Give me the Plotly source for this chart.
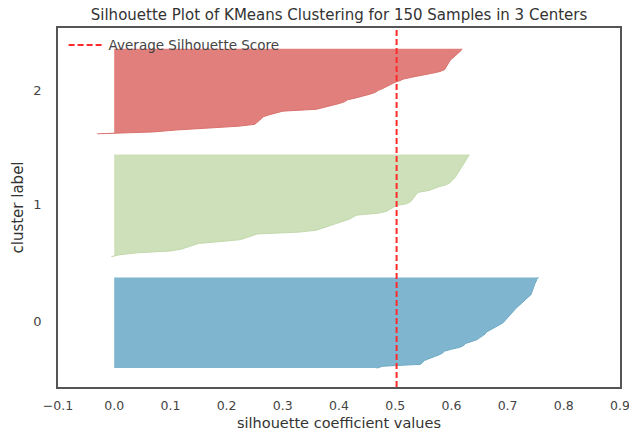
import numpy as np
import plotly.graph_objects as go

cluster_labels = ["0", "1", "2"]
silhouette_0 = [0.467, 0.478, 0.545, 0.548, 0.552, 0.56, 0.57, 0.578, 0.584, 0.588,
                0.60, 0.615, 0.622, 0.625, 0.635, 0.645, 0.65, 0.655, 0.66, 0.662,
                0.668, 0.675, 0.682, 0.688, 0.692, 0.695, 0.698, 0.70, 0.703, 0.706,
                0.709, 0.712, 0.716, 0.72, 0.724, 0.727, 0.73, 0.734, 0.738, 0.742,
                0.743, 0.744, 0.745, 0.746, 0.747, 0.749, 0.751, 0.752, 0.755]
silhouette_1 = [-0.005, 0.01, 0.04, 0.10, 0.12, 0.13, 0.14, 0.15, 0.19, 0.225,
                0.235, 0.245, 0.255, 0.33, 0.36, 0.37, 0.38, 0.39, 0.40, 0.41,
                0.42, 0.425, 0.432, 0.47, 0.485, 0.49, 0.495, 0.502, 0.52, 0.527,
                0.53, 0.532, 0.535, 0.538, 0.54, 0.56, 0.568, 0.578, 0.59, 0.597,
                0.60, 0.604, 0.607, 0.609, 0.611, 0.613, 0.615, 0.617, 0.619, 0.621,
                0.623, 0.625, 0.627, 0.629, 0.632]
silhouette_2 = [-0.03, 0.07, 0.11, 0.17, 0.22, 0.25, 0.255, 0.258, 0.262, 0.265,
                0.275, 0.29, 0.30, 0.36, 0.375, 0.39, 0.40, 0.41, 0.415, 0.43,
                0.445, 0.455, 0.465, 0.47, 0.478, 0.484, 0.49, 0.498, 0.507, 0.515,
                0.53, 0.55, 0.565, 0.58, 0.588, 0.59, 0.592, 0.594, 0.596, 0.598,
                0.602, 0.606, 0.61, 0.614, 0.617, 0.619]
average_score = 0.5025
x_tick_vals = [-0.1, 0.0, 0.1, 0.2, 0.3, 0.4, 0.5, 0.6, 0.7, 0.8, 0.9]

clusters = [silhouette_0, silhouette_1, silhouette_2]
fill_colors = ["#7FB5CE", "#CDE0BA", "#E07F7B"]
edge_colors = ["#6FAAC6", "#C2D9AC", "#DA726E"]

fig = go.Figure()
y_lower = 10
tick_pos = []
for vals, fc, ec in zip(clusters, fill_colors, edge_colors):
    vals = sorted(vals)
    n = len(vals)
    ys = np.arange(y_lower, y_lower + n)
    fig.add_trace(go.Scatter(
        x=vals, y=ys, mode="lines", fill="tozerox",
        fillcolor=fc, line=dict(color=ec, width=1),
        showlegend=False, hoverinfo="skip"))
    tick_pos.append(y_lower + 0.5 * n)
    y_lower = y_lower + n + 10

n_total = sum(len(c) for c in clusters)
y_max = n_total + (len(clusters) + 1) * 10

fig.add_trace(go.Scatter(
    x=[average_score, average_score], y=[0, y_max], mode="lines",
    line=dict(color="#FF2A2A", width=2, dash="6px,3px"),
    name="Average Silhouette Score"))

font_family = "DejaVu Sans"
fig.update_layout(
    width=629, height=435,
    margin=dict(l=58, r=9, t=28, b=48, autoexpand=False),
    paper_bgcolor="white", plot_bgcolor="white",
    title=dict(text="Silhouette Plot of KMeans Clustering for 150 Samples in 3 Centers",
               x=339 / 629, xanchor="center", y=1 - 15 / 435, yanchor="middle",
               font=dict(family=font_family, size=15, color="#333333")),
    font=dict(family=font_family, color="#444444"),
    legend=dict(x=0.01, y=0.995, xanchor="left", yanchor="top",
                bgcolor="rgba(0,0,0,0)", font=dict(size=13.5, color="#444444"),
                itemwidth=35),
    showlegend=True,
)
fig.update_xaxes(
    range=[-0.1, 0.9], tickvals=x_tick_vals, tickformat=".1f", automargin=False,
    ticklabeloverflow="allow",
    showgrid=False, zeroline=False, showline=True, mirror=True,
    linecolor="#555555", linewidth=1.5, ticks="outside", ticklen=6, tickcolor="rgba(0,0,0,0)",
    tickfont=dict(size=12.5, color="#444444"),
    title=dict(text="silhouette coefficient values", font=dict(size=14.5, color="#333333"),
               standoff=6))
fig.update_yaxes(
    range=[0, y_max], tickvals=tick_pos, ticktext=cluster_labels, automargin=False,
    showgrid=False, zeroline=False, showline=True, mirror=True,
    linecolor="#555555", linewidth=1.5, ticks="outside", ticklen=12, tickcolor="rgba(0,0,0,0)",
    tickfont=dict(size=13, color="#444444"),
    title=dict(text="cluster label", font=dict(size=15, color="#333333"), standoff=6))

fig.write_html("out.html")
